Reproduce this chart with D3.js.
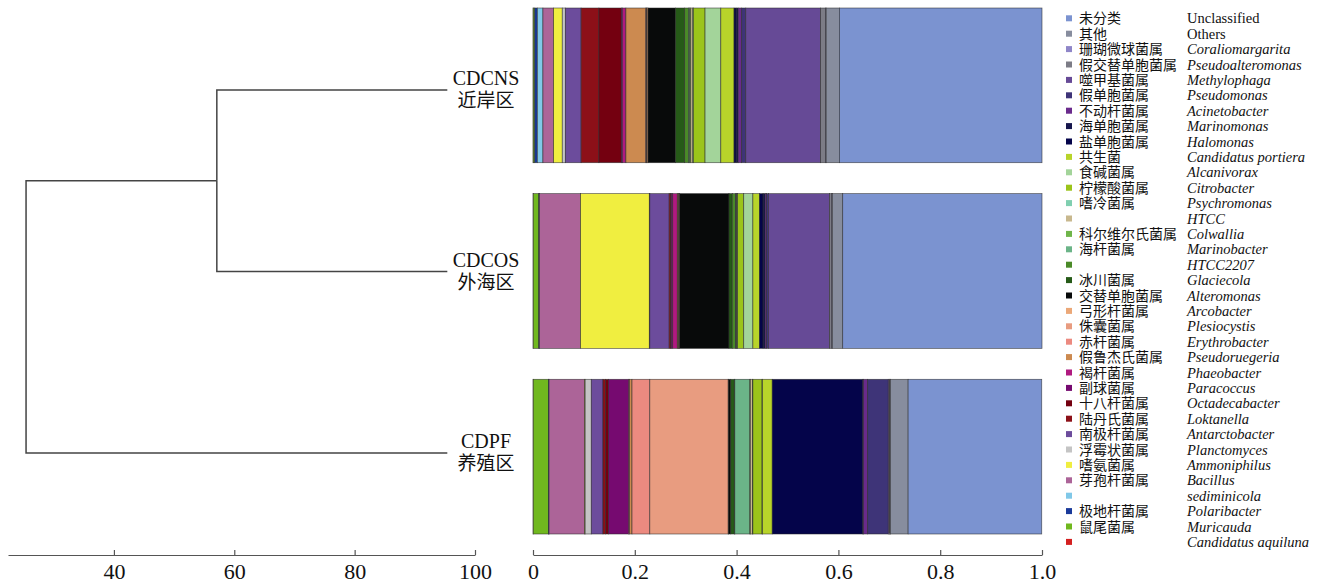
<!DOCTYPE html>
<html lang="zh">
<head>
<meta charset="UTF-8">
<title>Bacterial genera composition</title>
<script src="https://d3js.org/d3.v7.min.js"></script>
<style>
    body {
        margin: 0;
        background: #fff;
    }
    svg {
        display: block;
    }
    text {
        font-family: "Liberation Serif", "Times New Roman", "Noto Sans CJK SC", serif;
        fill: #111;
    }
    .cn {
        font-family: "Noto Sans CJK SC", sans-serif;
    }
    .axis path, .axis line {
        stroke: #555;
        stroke-width: 1.2px;
    }
    .axis text {
        font-size: 22px;
    }
    .dendro {
        fill: none;
        stroke: #444;
        stroke-width: 1.5px;
    }
</style>
</head>
<body>
<script>
const width = 1325;
const height = 584;

// samples (rows) and their Chinese names
const samples = ["CDCNS", "CDCOS", "CDPF"];
const samplesCn = ["近岸区", "外海区", "养殖区"];

// genera in legend order (top to bottom); bars stack in reverse order from 0
const genera = ["Unclassified", "Others", "Coraliomargarita", "Pseudoalteromonas", "Methylophaga",
    "Pseudomonas", "Acinetobacter", "Marinomonas", "Halomonas", "Candidatus portiera",
    "Alcanivorax", "Citrobacter", "Psychromonas", "HTCC", "Colwallia",
    "Marinobacter", "HTCC2207", "Glaciecola", "Alteromonas", "Arcobacter",
    "Plesiocystis", "Erythrobacter", "Pseudoruegeria", "Phaeobacter", "Paracoccus",
    "Octadecabacter", "Loktanella", "Antarctobacter", "Planctomyces", "Ammoniphilus",
    "Bacillus", "sediminicola", "Polaribacter", "Muricauda", "Candidatus aquiluna"];
const generaCn = ["未分类", "其他", "珊瑚微球菌属", "假交替单胞菌属", "噬甲基菌属",
    "假单胞菌属", "不动杆菌属", "海单胞菌属", "盐单胞菌属", "共生菌",
    "食碱菌属", "柠檬酸菌属", "嗜冷菌属", "", "科尔维尔氏菌属",
    "海杆菌属", "", "冰川菌属", "交替单胞菌属", "弓形杆菌属",
    "侏囊菌属", "赤杆菌属", "假鲁杰氏菌属", "褐杆菌属", "副球菌属",
    "十八杆菌属", "陆丹氏菌属", "南极杆菌属", "浮霉状菌属", "嗜氨菌属",
    "芽孢杆菌属", "", "极地杆菌属", "鼠尾菌属", ""];
const colors = ["#7b93d0", "#878d9e", "#8f86c8", "#7c7c86", "#664a96",
    "#3e3478", "#6a2a8c", "#16164c", "#04044a", "#b8d42a",
    "#a3d49a", "#9bc41a", "#80cfb0", "#c8b88e", "#6fb54a",
    "#6bb488", "#4a8a28", "#265a18", "#080a0a", "#eba878",
    "#e89c80", "#ec8a80", "#cc8a50", "#b01a80", "#760a70",
    "#740010", "#8c1018", "#6c4c9c", "#c4c4c4", "#f0ee40",
    "#ac6498", "#80c8e8", "#1a3a9a", "#70b81e", "#d42020"];

// relative abundance, same order as genera
const cdcns = [0.398, 0.026, 0.001, 0.010, 0.147,
    0.008, 0.007, 0.004, 0.004, 0.026,
    0.031, 0.023, 0.001, 0.004, 0.002,
    0.002, 0.008, 0.018, 0.054, 0.002,
    0.001, 0.0015, 0.039, 0.007, 0.002,
    0.044, 0.035, 0.031, 0.006, 0.017,
    0.021, 0.011, 0.005, 0.003, 0.0005];
const cdcos = [0.3915, 0.0205, 0.001, 0.0045, 0.120,
    0.0035, 0.003, 0.004, 0.007, 0.013,
    0.018, 0.012, 0.001, 0.001, 0.001,
    0.001, 0.0065, 0.0065, 0.097, 0.001,
    0.001, 0.001, 0.0015, 0.009, 0.003,
    0.001, 0.003, 0.038, 0.001, 0.135,
    0.081, 0.0005, 0.0005, 0.011, 0.0005];
const cdpf = [0.2625, 0.035, 0.0005, 0.0015, 0.002,
    0.0405, 0.0085, 0.001, 0.178, 0.019,
    0.001, 0.018, 0.001, 0.004, 0.001,
    0.0295, 0.001, 0.007, 0.004, 0.001,
    0.154, 0.035, 0.005, 0.002, 0.039,
    0.006, 0.005, 0.023, 0.012, 0.001,
    0.070, 0.0005, 0.0005, 0.030, 0.0005];

// similarity tree: merge heights
const tree = {h: 25.4, children: [
    {h: 57.1, children: [{name: "CDCNS"}, {name: "CDCOS"}]},
    {name: "CDPF"}
]};
const leafHeight = 95.4;

const simTicks = [40, 60, 80, 100];
const barTicks = [0, 0.2, 0.4, 0.6, 0.8, 1.0];

const svg = d3.select("body").append("svg")
    .attr("width", width)
    .attr("height", height);

const axisY = 555;

// scales
const xSim = d3.scaleLinear().domain([22.4, 100]).range([8, 475]);
const xBar = d3.scaleLinear().domain([0, 1]).range([533, 1042]);
const yBar = d3.scaleBand().domain(samples).range([8, 534]).paddingInner(0.1667).paddingOuter(0);
const yLeaf = d3.scalePoint().domain(samples).range([90, 453]);

//dendrogram
const root = d3.hierarchy(tree);
root.eachAfter(n => {
    if (!n.children) {
        n.h = leafHeight;
        n.yy = yLeaf(n.data.name);
    } else {
        n.h = n.data.h;
        n.yy = d3.mean(n.children, c => c.yy);
    }
});
svg.append("g").selectAll("path")
    .data(root.links())
    .enter()
    .append("path")
    .attr("class", "dendro")
    .attr("d", l => `M${xSim(l.source.h)},${l.source.yy}V${l.target.yy}H${xSim(l.target.h)}`);

const leafLabels = svg.append("g").selectAll("g")
    .data(samples)
    .enter()
    .append("g")
    .attr("transform", d => `translate(486,${yLeaf(d)})`);
leafLabels.append("text")
    .attr("text-anchor", "middle")
    .attr("y", -5)
    .style("font-size", "20px")
    .text(d => d);
leafLabels.append("text")
    .attr("class", "cn")
    .attr("text-anchor", "middle")
    .attr("y", 17)
    .style("font-size", "19px")
    .text((d, i) => samplesCn[i]);

//stacked bars
const rows = samples.map((s, i) => {
    const vals = [cdcns, cdcos, cdpf][i];
    const row = {sample: s};
    genera.forEach((g, j) => row[g] = vals[j]);
    return row;
});
const stackKeys = genera.slice().reverse();
const series = d3.stack().keys(stackKeys)(rows);
const colorOf = d3.scaleOrdinal().domain(genera).range(colors);

svg.append("g").selectAll("g")
    .data(series)
    .enter()
    .append("g")
    .attr("fill", d => colorOf(d.key))
    .selectAll("rect")
    .data(d => d)
    .enter()
    .append("rect")
    .attr("x", d => xBar(d[0]))
    .attr("y", d => yBar(d.data.sample))
    .attr("width", d => Math.max(0, xBar(d[1]) - xBar(d[0])))
    .attr("height", yBar.bandwidth())
    .attr("stroke", "#2a2a2a")
    .attr("stroke-opacity", 0.75)
    .attr("stroke-width", 0.7);

//axes
const simAxis = d3.axisBottom(xSim).tickValues(simTicks).tickSize(-5).tickSizeOuter(0).tickPadding(8);
svg.append("g").attr("class", "axis")
    .attr("transform", `translate(0,${axisY})`)
    .call(simAxis);

const barAxis = d3.axisBottom(xBar).tickValues(barTicks).tickSize(-5).tickSizeOuter(0).tickPadding(8)
    .tickFormat(d => d === 0 ? "0" : d.toFixed(1));
svg.append("g").attr("class", "axis")
    .attr("transform", `translate(0,${axisY})`)
    .call(barAxis);

//legend
const legend = svg.append("g").selectAll("g")
    .data(genera)
    .enter()
    .append("g")
    .attr("transform", (d, i) => `translate(1066,${18.3 + i * 15.4})`);
legend.append("rect")
    .attr("x", 0)
    .attr("y", -3)
    .attr("width", 6)
    .attr("height", 6)
    .attr("fill", d => colorOf(d));
legend.append("text")
    .attr("class", "cn")
    .attr("x", 13)
    .attr("y", 5)
    .style("font-size", "14px")
    .text((d, i) => generaCn[i]);
legend.append("text")
    .attr("x", 121)
    .attr("y", 5)
    .style("font-size", "14.5px")
    .style("font-style", d => (d === "Unclassified" || d === "Others") ? "normal" : "italic")
    .text(d => d);
</script>
</body>
</html>
